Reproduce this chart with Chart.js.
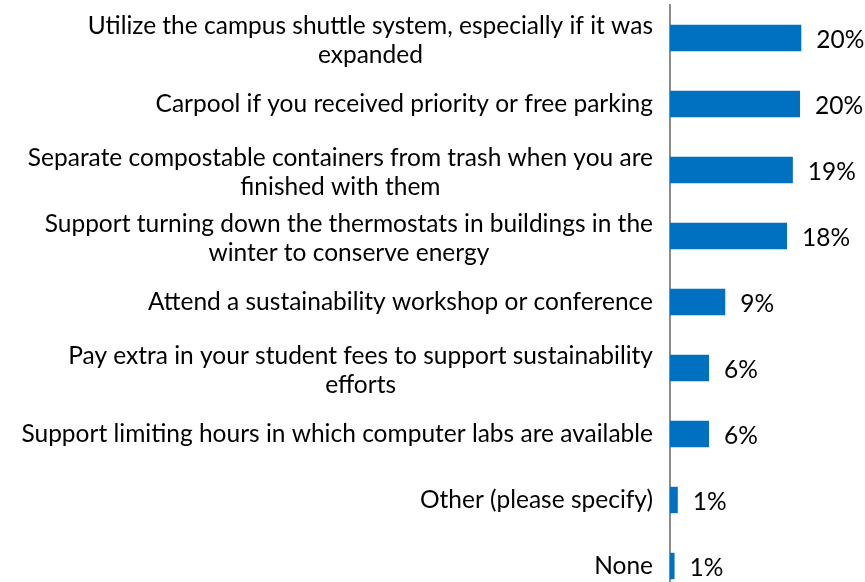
<!DOCTYPE html>
<html>
<head>
<meta charset="utf-8">
<script src="https://cdn.jsdelivr.net/npm/chart.js@4.4.1/dist/chart.umd.min.js"></script>
<style>
  html, body { margin: 0; padding: 0; background: #fff; overflow: hidden; }
  #wrap { width: 865px; height: 599px; position: relative; }
</style>
</head>
<body>
<div id="wrap"><canvas id="myChart"></canvas></div>
<script>
// answer options, wrapped the way they appear next to the bars
const categories = [
    ['Utilize the campus shuttle system, especially if it was', 'expanded'],
    ['Carpool if you received priority or free parking'],
    ['Separate compostable containers from trash when you are', 'finished with them'],
    ['Support turning down the thermostats in buildings in the', 'winter to conserve energy'],
    ['Attend a sustainability workshop or conference'],
    ['Pay extra in your student fees to support sustainability', 'efforts'],
    ['Support limiting hours in which computer labs are available'],
    ['Other (please specify)'],
    ['None']
];
const percentValues = [20.2, 20.0, 18.9, 18.0, 8.5, 6.0, 6.0, 1.2, 0.7];
const xMax = 30;

const fontFamily = 'Lato, "Open Sans", sans-serif';
const textColor = '#000000';
const barColor = '#0070C0';

// pick a font size so the longest first line comes out about 570px wide
function fitFontSize(ctx) {
    ctx.font = '20px ' + fontFamily;
    const w = ctx.measureText(categories[0][0]).width;
    return Math.round(20 * 570 / w * 2) / 2;
}

const labelPlugin = {
    id: 'sideLabels',
    afterDatasetsDraw(chart) {
        const ctx = chart.ctx;
        const yScale = chart.scales.y;
        const size = fitFontSize(ctx);
        const lineH = 29;
        ctx.save();
        ctx.font = size + 'px ' + fontFamily;
        ctx.fillStyle = textColor;
        ctx.textBaseline = 'middle';
        ctx.textAlign = 'center';

        const rightEdge = chart.chartArea.left - 17;
        categories.forEach(function(lines, i) {
            const cy = yScale.getPixelForValue(i);
            let maxW = 0;
            lines.forEach(function(l) { maxW = Math.max(maxW, ctx.measureText(l).width); });
            const cx = rightEdge - maxW / 2;
            const shift = lines.length > 1 ? 3 : 0;
            const top = cy - (lines.length - 1) * lineH / 2 + shift;
            lines.forEach(function(l, j) {
                ctx.fillText(l, cx, top + j * lineH);
            });
        });

        // value labels to the right of each bar
        ctx.textAlign = 'left';
        const meta = chart.getDatasetMeta(0);
        meta.data.forEach(function(bar, i) {
            ctx.fillText(Math.round(percentValues[i]) + '%', bar.x + 15, bar.y + 2);
        });
        ctx.restore();
    }
};

const ctx = document.getElementById('myChart').getContext('2d');
const myChart = new Chart(ctx, {
    type: 'bar',
    data: {
        labels: categories.map(function(c) { return c.join(' '); }),
        datasets: [{
            data: percentValues,
            backgroundColor: barColor,
            borderWidth: 0,
            categoryPercentage: 1.0,
            barPercentage: 0.4
        }]
    },
    options: {
        indexAxis: 'y',
        responsive: true,
        maintainAspectRatio: false,
        animation: false,
        layout: {
            padding: { top: 5, left: 670, right: 0, bottom: 0 }
        },
        plugins: {
            legend: { display: false },
            tooltip: { enabled: false }
        },
        scales: {
            x: {
                display: false,
                min: 0,
                max: xMax
            },
            y: {
                display: true,
                ticks: { display: false },
                grid: { display: false, drawTicks: false },
                border: { display: true, color: '#8c8c8c', width: 2 }
            }
        }
    },
    plugins: [labelPlugin]
});
</script>
</body>
</html>
